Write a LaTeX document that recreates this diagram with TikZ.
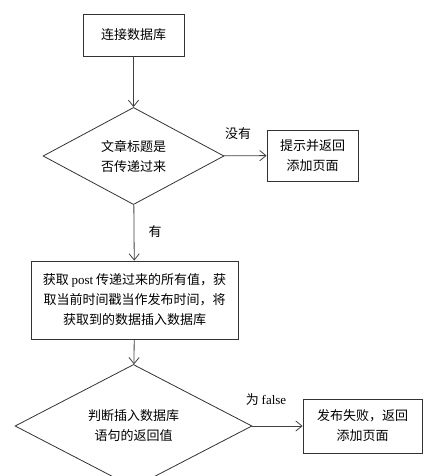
\documentclass[tikz,border=0pt]{standalone}
\usepackage{fontspec}
\setmainfont{Liberation Serif}
\newfontfamily\cjk{Noto Sans CJK SC}
\usetikzlibrary{arrows.meta,shapes.geometric}

\begin{document}
\begin{tikzpicture}[x=1pt, y=-1pt,
    box/.style={rectangle, draw=black!80, line width=0.8pt, inner sep=0pt,
                align=center, font=\fontsize{13}{20}\selectfont\cjk},
    dia/.style={diamond, draw=black!80, line width=0.8pt, inner sep=0pt,
                align=center, font=\fontsize{13}{20}\selectfont\cjk},
    arr/.style={-{Straight Barb[length=2.2mm, width=3.6mm]}, draw=black!75, line width=0.8pt},
    lbl/.style={font=\fontsize{13}{16}\selectfont\cjk}
  ]
  \useasboundingbox (0,0) rectangle (433,476);

  %% ── main column (x = 134) ───────────────────────────────────────────
  \node[box, minimum width=101pt, minimum height=42pt] (b1) at (133.5, 35)  {连接数据库};
  \node[dia, minimum width=181pt, minimum height=96pt] (d1) at (133.5,156)  {文章标题是\\否传递过来};
  \node[box, minimum width=207pt, minimum height=78pt] (b3) at (134.5,300)
       {获取 {\rmfamily post} 传递过来的所有值，获\\取当前时间戳当作发布时间，将\\获取到的数据插入数据库};
  \node[dia, minimum width=237pt, minimum height=98pt] (d2) at (133.5,426)  {判断插入数据库\\语句的返回值};

  %% ── side boxes ──────────────────────────────────────────────────────
  \node[box, minimum width=91pt,  minimum height=51pt] (b2) at (312.5,155.5) {提示并返回\\添加页面};
  \node[box, minimum width=119pt, minimum height=54pt] (b4) at (362.5,426)   {发布失败，返回\\添加页面};

  %% ── arrows ──────────────────────────────────────────────────────────
  \draw[arr] (b1)--(d1);
  \draw[arr] (d1)--(b2);
  \draw[arr] (d1)--(b3);
  \draw[arr] (b3)--(d2);
  \draw[arr] (d2)--(b4);

  %% ── labels ──────────────────────────────────────────────────────────
  \node[lbl] (l1) at (238,134) {没有};
  \node[lbl] (l2) at (155,232) {有};
  \node[lbl] (l3) at (266,400) {为 {\rmfamily false}};

\end{tikzpicture}
\end{document}
